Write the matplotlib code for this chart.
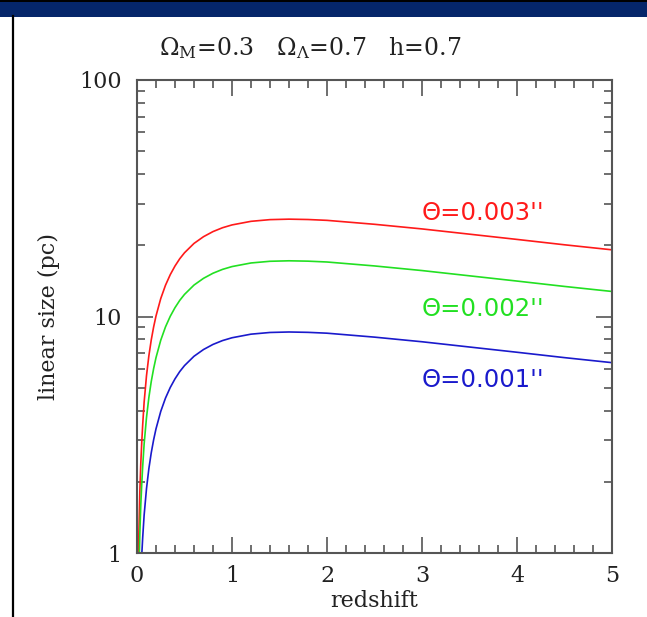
import matplotlib
matplotlib.use("Agg")
import matplotlib.pyplot as plt
from matplotlib.patches import Rectangle
from matplotlib.lines import Line2D
from matplotlib.ticker import FixedLocator, NullFormatter, MultipleLocator

# data
redshift = [0.01, 0.02, 0.03, 0.04, 0.05, 0.06, 0.075, 0.1, 0.125, 0.15, 0.175, 0.2, 0.25, 0.3,
            0.35, 0.4, 0.45, 0.5, 0.6, 0.7, 0.8, 0.9, 1.0, 1.2, 1.4, 1.6, 1.8, 2.0,
            2.5, 3.0, 3.5, 4.0, 4.5, 5.0]
size_001 = [0.207, 0.409, 0.608, 0.800, 0.98, 1.163, 1.445, 1.872, 2.275, 2.653, 3.01, 3.35, 3.97, 4.52,
            5.01, 5.45, 5.85, 6.20, 6.79, 7.25, 7.62, 7.91, 8.13, 8.42, 8.56, 8.60, 8.57, 8.50,
            8.18, 7.82, 7.43, 7.06, 6.70, 6.38]
size_002 = [0.414, 0.818, 1.216, 1.60, 1.96, 2.326, 2.89, 3.74, 4.55, 5.31, 6.02, 6.70, 7.94, 9.04,
            10.02, 10.9, 11.7, 12.4, 13.58, 14.5, 15.24, 15.82, 16.26, 16.84, 17.12, 17.2, 17.14, 17.0,
            16.36, 15.64, 14.86, 14.12, 13.4, 12.76]
size_003 = [0.621, 1.227, 1.824, 2.40, 2.94, 3.489, 4.34, 5.62, 6.825, 7.96, 9.03, 10.05, 11.91, 13.56,
            15.03, 16.35, 17.55, 18.6, 20.37, 21.75, 22.86, 23.73, 24.39, 25.26, 25.68, 25.8, 25.71, 25.5,
            24.54, 23.46, 22.29, 21.18, 20.1, 19.14]
labels = ["\u0398=0.003''", "\u0398=0.002''", "\u0398=0.001''"]
label_pos = [(3.0, 27.4), (3.0, 10.76), (3.0, 5.38)]
colors = ["#ff1a1a", "#22e022", "#1a1acc"]

plt.rcParams["mathtext.fontset"] = "dejavuserif"
serif = "DejaVu Serif"

W, H = 647, 617
fig = plt.figure(figsize=(W / 100, H / 100), dpi=100)

# slide frame: dark band on top, black rule on the left
fig.patches.append(Rectangle((0, 1 - 17 / H), 1, 17 / H, transform=fig.transFigure,
                             facecolor="#05266a", edgecolor="none", zorder=0))
fig.patches.append(Rectangle((0, 1 - 2 / H), 1, 2 / H, transform=fig.transFigure,
                             facecolor="black", edgecolor="none", zorder=0))
fig.lines.append(Line2D([13 / W, 13 / W], [0, 1 - 16 / H], transform=fig.transFigure,
                        color="black", lw=1.6))

ax = fig.add_axes([137 / W, 1 - 553 / H, 475 / W, 473 / H])

for ys, c in zip([size_003, size_002, size_001], colors):
    ax.plot(redshift, ys, color=c, lw=1.2)

for (x, y), t, c in zip(label_pos, labels, colors):
    ax.text(x, y, t, color=c, fontsize=17.5, family="DejaVu Sans", va="center", ha="left")

ax.set_yscale("log")
ax.set_xlim(0, 5)
ax.set_ylim(1, 100)
ax.xaxis.set_major_locator(MultipleLocator(1))
ax.xaxis.set_minor_locator(MultipleLocator(0.2))
ax.yaxis.set_major_locator(FixedLocator([1, 10, 100]))
ax.yaxis.set_minor_locator(FixedLocator([k * d for d in (1, 10) for k in range(2, 10)]))
ax.yaxis.set_minor_formatter(NullFormatter())
ax.set_yticklabels(["1", "10", "100"])

for s in ax.spines.values():
    s.set_color("#555555")
    s.set_linewidth(1.5)
ax.tick_params(which="both", direction="in", top=True, right=True, color="#555555",
               labelsize=16, width=1.2)
ax.tick_params(which="major", length=11.5)
ax.tick_params(which="minor", length=6)
ax.tick_params(axis="y", which="major", pad=11)
ax.tick_params(axis="x", which="major", pad=9)
for lab in ax.get_xticklabels() + ax.get_yticklabels():
    lab.set_family(serif)
    lab.set_color("#222222")

ax.set_xlabel("redshift", family=serif, fontsize=16, labelpad=2, color="#222222")
ax.set_ylabel("linear size (pc)", family=serif, fontsize=16, labelpad=14, color="#222222")

fig.text(310 / W, 1 - 48 / H, r"$\Omega_{\rm M}$=0.3   $\Omega_{\Lambda}$=0.7   h=0.7",
         family=serif, fontsize=17, ha="center", va="center", color="#222222")

fig.savefig("out.png", dpi=100, facecolor="white")
